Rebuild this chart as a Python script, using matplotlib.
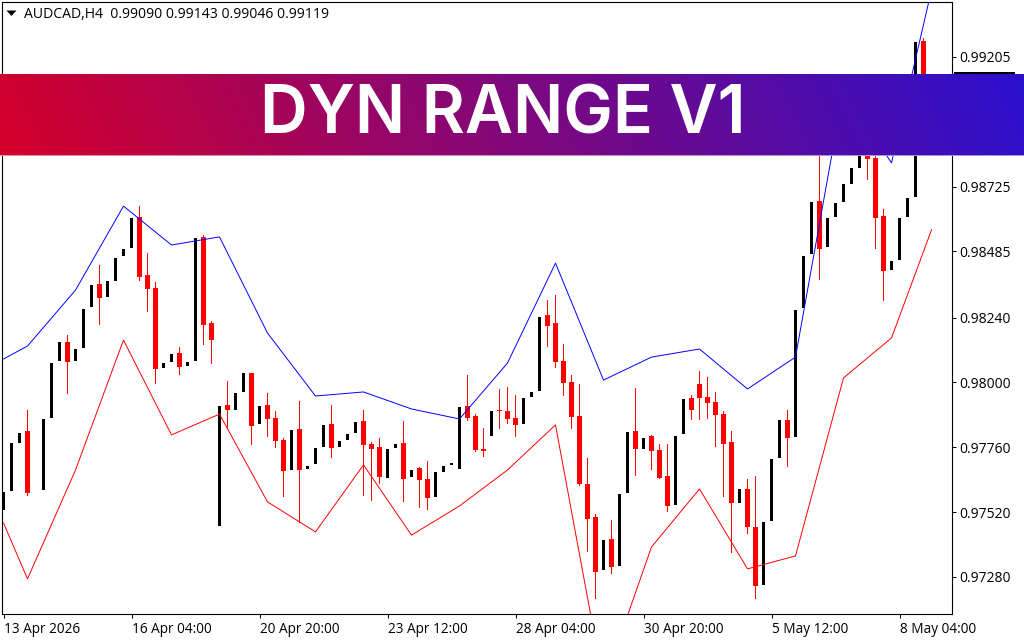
import matplotlib
matplotlib.use("Agg")
import matplotlib.pyplot as plt
import numpy as np
from matplotlib.patches import Polygon, Rectangle

# prices are stored in points (price * 1e5); None = no bar
opens = [97528,97598,97776,97820,None,97602,97869,98080,98150,98080,98128,98279,98365,98317,98376,98468,98498,98613,98398,98350,
98054,98076,98109,98061,98080,98539,98220,97469,97917,97898,97965,98035,97846,97917,97869,97787,97676,97828,97680,97698,
97761,97846,97761,97787,97813,97857,97772,97761,97646,97758,97776,97650,97683,97643,97576,97669,97695,97680,97913,97876,
97754,97802,97898,97894,97869,97846,97946,97968,98250,98220,98080,98002,97876,97624,97502,97306,97421,97321,97591,97820,
97754,97802,97750,97654,97546,97809,97943,97994,97946,97928,97883,97780,97554,97606,97465,97250,97487,97720,97861,97798,
98276,98476,98672,98502,98613,98668,98735,98794,98898,98831,98616,98416,98453,98613,98687,99264]
closes = [97595,97776,97813,97591,None,97865,98072,98150,98076,98124,98272,98361,98313,98376,98461,98494,98609,98390,98346,98050,
98072,98105,98057,98076,98535,98213,98157,97913,97898,97961,98035,97839,97913,97865,97783,97672,97824,97676,97691,97758,
97843,97758,97783,97809,97854,97769,97754,97650,97754,97772,97643,97676,97639,97572,97669,97691,97702,97909,97869,97750,
97746,97894,97894,97865,97843,97943,97965,98242,98209,98076,97998,97872,97624,97495,97298,97417,97317,97587,97817,97754,
97794,97746,97646,97543,97802,97939,97898,97943,97924,97880,97772,97554,97606,97465,97247,97484,97717,97861,97794,98268,
98468,98668,98494,98609,98664,98735,98794,98898,98827,98609,98413,98450,98609,98683,99260,99119]
highs = [97595,97776,97813,97898,None,97865,98072,98150,98176,98124,98272,98361,98435,98376,98461,98494,98609,98653,98479,98372,
98072,98105,98131,98076,98535,98546,98228,97913,98005,97961,98035,98035,97913,97961,97894,97794,97824,97931,97691,97758,
97843,97917,97783,97809,97854,97898,97780,97794,97754,97772,97857,97676,97687,97709,97669,97691,97702,97909,98028,97883,
97832,97894,97976,97983,97954,97943,97965,98242,98305,98324,98142,98028,97994,97720,97513,97417,97491,97587,97817,97980,
97794,97806,97772,97772,97802,97939,97954,98043,98020,97965,97894,97820,97606,97643,97654,97484,97717,97861,97898,98268,
98468,98668,98898,98609,98664,98735,98794,98898,98935,98861,98642,98450,98609,98683,99260,99275]
lows = [97528,97598,97776,97584,None,97602,97869,98080,97961,98080,98128,98279,98217,98317,98376,98468,98498,98379,98265,97998,
98054,98076,98031,98061,98080,98142,98072,97469,97835,97898,97965,97772,97846,97802,97761,97580,97676,97484,97680,97698,
97761,97724,97761,97787,97813,97584,97565,97628,97646,97758,97561,97650,97539,97532,97576,97669,97695,97680,97861,97746,
97728,97802,97832,97850,97802,97846,97946,97968,98135,98057,97954,97832,97620,97376,97202,97306,97295,97321,97591,97658,
97754,97680,97646,97524,97546,97809,97865,97865,97869,97765,97580,97372,97554,97443,97202,97250,97487,97720,97691,97798,
98276,98476,98383,98502,98613,98668,98735,98794,98753,98498,98305,98416,98453,98613,98687,99046]

band_index = [0,3,9,15,21,27,33,39,45,51,57,63,69,75,81,87,93,99,105,111,116]
upper_band = [98087,98135,98342,98653,98509,98539,98183,97950,97965,97902,97865,98072,98442,98009,98094,98124,97976,98094,99083,98813,99453]
lower_band = [97480,97273,97676,98157,97806,97883,97558,97447,97695,97435,97543,97676,97843,96884,97391,97606,97310,97358,98017,98165,98565]

price_ticks = [0.99205,0.98965,0.98725,0.98485,0.98240,0.98000,0.97760,0.97520,0.97280]
time_ticks = [0,16,32,48,64,80,96,112]
time_labels = ["13 Apr 2026","16 Apr 04:00","20 Apr 20:00","23 Apr 12:00","28 Apr 04:00","30 Apr 20:00","5 May 12:00","8 May 04:00"]
header = "AUDCAD,H4  0.99090 0.99143 0.99046 0.99119"
title = "DYN RANGE V1"
grad_left = "#D6002A"
grad_right = "#2A10CE"

W, H = 1024, 640
FONT = "Open Sans"
fig = plt.figure(figsize=(W/100, H/100), dpi=100, facecolor="white")
L, R, T, B = 2.0, 952.0, 2.0, 614.0
ax = fig.add_axes([L/W, 1-B/H, (R-L)/W, (B-T)/H])
ax.set_facecolor("white")
ax.set_xlim((L-3.5)/8, (R-3.5)/8)
ax.set_ylim((99416-3.702*B)/1e5, (99416-3.702*T)/1e5)

WICK_SHIFT = -0.03  # keeps the snapped 1 px wick on the body's middle pixel
for i, (o, h, l, c) in enumerate(zip(opens, highs, lows, closes)):
    if o is None:
        continue
    up = c > o
    col = "#000000" if up else "#FF0000"
    if h > max(o, c) or l < min(o, c):
        ax.vlines(i + WICK_SHIFT, l/1e5, h/1e5, color=col, lw=0.72, antialiased=False, zorder=2)
    ax.bar(i, abs(c-o)/1e5, bottom=min(o, c)/1e5, width=(3.4 if up else 5.4)/8, color=col,
           antialiased=False, lw=0, zorder=2)

ax.plot(band_index, np.array(upper_band)/1e5, color="#0000FF", lw=0.7, zorder=3)
ax.plot(band_index, np.array(lower_band)/1e5, color="#FF0000", lw=0.7, zorder=3)

ax.yaxis.tick_right()
ax.set_yticks(price_ticks)
ax.set_yticklabels([f"{p:.5f}" for p in price_ticks], fontsize=10, family=FONT, color="#000000")
ax.tick_params(axis="y", length=3, width=0.72, pad=2.5, color="black")
ax.set_xticks(time_ticks)
ax.set_xticklabels(time_labels, fontsize=9.8, family=FONT, ha="left", color="#000000")
ax.tick_params(axis="x", length=3, width=0.72, pad=3, color="black")
for s in ax.spines.values():
    s.set_linewidth(0.8)
    s.set_color("black")

# header
ax.add_patch(Polygon([(6.5/W, 1-10.5/H), (16.5/W, 1-10.5/H), (11.5/W, 1-16/H)], closed=True, transform=fig.transFigure,
                     color="black", lw=0, zorder=5, clip_on=False))
fig.text(24/W, 1-14/H, header, fontsize=10.05, family=FONT, va="center", ha="left", color="black")

# current price tag, mostly under the banner
fig.add_artist(Rectangle((954/W, 1-90/H), 61/W, 18/H, transform=fig.transFigure, color="black", lw=0, zorder=4))

# banner: diagonal gradient, red at lower left to blue at upper right, soft last row
rows, cols = 82, W
xx, yy = np.meshgrid(np.arange(cols), np.arange(rows))
frac = (xx + 0.5*(rows-1-yy)) / (cols + 0.5*rows)
c0 = np.array(matplotlib.colors.to_rgb(grad_left))
c1 = np.array(matplotlib.colors.to_rgb(grad_right))
img = c0 + (c1-c0)*frac[..., None]
img[-1] = img[-1]*0.45 + 0.55
bax = fig.add_axes([0, 1-156/H, 1, rows/H], zorder=10)
bax.imshow(img, aspect="auto", extent=(0, 1, 0, 1), interpolation="nearest")
bax.axis("off")
fig.text(502.5/W, 1-134/H, title, color="white", fontsize=47.6, family="Inter", weight=600,
         ha="center", va="baseline", zorder=20)

fig.savefig("out.png", dpi=100)
